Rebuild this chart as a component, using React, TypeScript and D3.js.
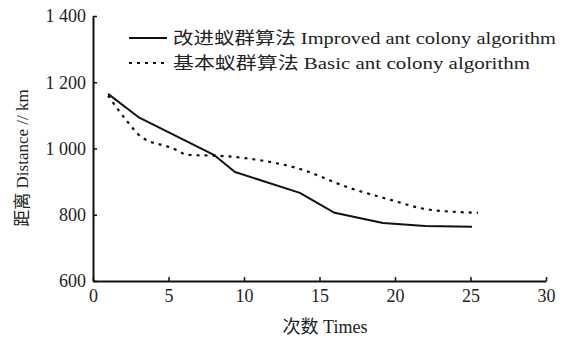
import * as d3 from "d3";
import React, {useRef, useEffect} from "react";

// iterations (x) and distance (y)
const improvedX = [1, 3, 8, 9.4, 13.7, 16, 19.2, 22, 25.1];
const improvedY = [1165, 1095, 981, 929, 866, 806, 775, 766, 764];
const basicX = [1, 2.3, 3.2, 5.2, 6.3, 8.7, 11, 13.5, 17, 19.7, 22.3, 25.5];
const basicY = [1160, 1080, 1035, 1002, 981, 977, 965, 941, 881, 845, 815, 806];

const xTicks = [0, 5, 10, 15, 20, 25, 30];
const yTicks = [600, 800, 1000, 1200, 1400];
const seriesNames = [
    "改进蚁群算法 Improved ant colony algorithm",
    "基本蚁群算法 Basic ant colony algorithm",
];

const FONT = "'Liberation Serif', 'Noto Sans CJK SC', serif";

function App() {

    const ref = useRef<SVGSVGElement>(null);

    useEffect(() => {
        document.body.style.margin = "0";
        const svg = d3.select(ref.current);
        svg.selectAll("*").remove();

        const x = d3.scaleLinear().domain([0, 30]).range([93, 546]);
        const y = d3.scaleLinear().domain([600, 1400]).range([281, 16]);

        const fmt = (d: number) => d >= 1000 ? `${Math.floor(d / 1000)} ${String(d % 1000).padStart(3, "0")}` : `${d}`;

        const xAxis = svg.append("g")
            .attr("transform", `translate(0,${y(600)})`)
            .call(d3.axisBottom(x).tickValues(xTicks).tickSizeInner(-4).tickSizeOuter(0).tickPadding(8));
        const yAxis = svg.append("g")
            .attr("transform", `translate(${x(0)},0)`)
            .call(d3.axisLeft(y).tickValues(yTicks).tickSizeInner(-4).tickSizeOuter(0).tickPadding(7).tickFormat(d => fmt(+d)));

        [xAxis, yAxis].forEach(a => {
            a.select(".domain").attr("stroke", "#111").attr("stroke-width", 2);
            a.selectAll(".tick line").attr("stroke", "#111").attr("stroke-width", 1.5);
            a.selectAll(".tick text")
                .attr("fill", "#222")
                .style("font-family", FONT)
                .style("font-size", "18px");
        });
        xAxis.selectAll(".tick text").attr("dy", "0.7em");

        const curved = d3.line<[number, number]>()
            .x(d => x(d[0]))
            .y(d => y(d[1]))
            .curve(d3.curveMonotoneX);
        const straight = d3.line<[number, number]>()
            .x(d => x(d[0]))
            .y(d => y(d[1]));

        const improved = improvedX.map((v, i) => [v, improvedY[i]] as [number, number]);
        const basic = basicX.map((v, i) => [v, basicY[i]] as [number, number]);

        svg.append("path")
            .attr("d", curved(basic))
            .attr("fill", "none")
            .attr("stroke", "#111")
            .attr("stroke-width", 2.2)
            .attr("stroke-dasharray", "3,5");

        svg.append("path")
            .attr("d", straight(improved))
            .attr("fill", "none")
            .attr("stroke", "#111")
            .attr("stroke-width", 2)
            .attr("stroke-linejoin", "round");

        // legend
        const legend = svg.append("g");
        seriesNames.forEach((name, i) => {
            const ly = 38 + i * 25;
            legend.append("line")
                .attr("x1", 129).attr("x2", 167)
                .attr("y1", ly).attr("y2", ly)
                .attr("stroke", "#111")
                .attr("stroke-width", i === 0 ? 2 : 2.2)
                .attr("stroke-dasharray", i === 0 ? null : "3,5");
            legend.append("text")
                .attr("x", 173)
                .attr("y", ly)
                .attr("dy", "0.35em")
                .attr("textLength", i === 0 ? 383 : 357)
                .attr("lengthAdjust", "spacingAndGlyphs")
                .attr("fill", "#222")
                .style("font-family", FONT)
                .style("font-size", "17px")
                .text(name);
        });

        svg.append("text")
            .attr("x", 325)
            .attr("y", 327)
            .attr("dy", "0.35em")
            .attr("text-anchor", "middle")
            .attr("fill", "#222")
            .style("font-family", FONT)
            .style("font-size", "18px")
            .text("次数 Times");

        svg.append("text")
            .attr("transform", `translate(22,158) rotate(-90)`)
            .attr("dy", "0.35em")
            .attr("text-anchor", "middle")
            .attr("fill", "#222")
            .style("font-family", FONT)
            .style("font-size", "17px")
            .text("距离 Distance // km");

    }, []);

    return (
        <svg ref={ref} width={574} height={338} style={{display: "block", background: "#fff"}} />
    );
}

export default App;
